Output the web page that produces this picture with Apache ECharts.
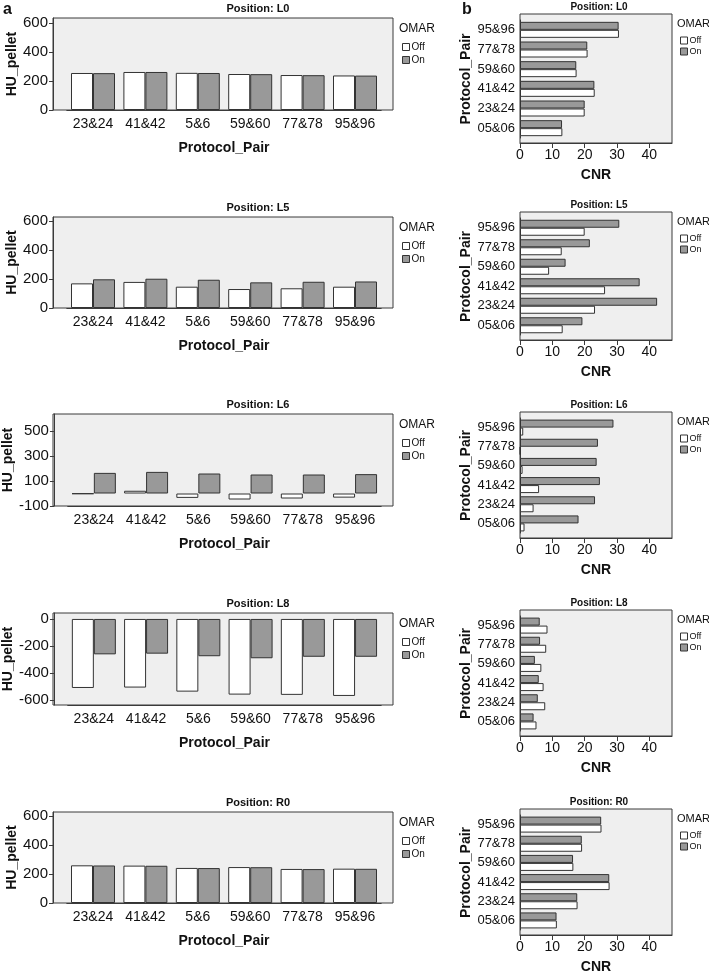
<!DOCTYPE html>
<html>
<head>
<meta charset="utf-8">
<script src="https://cdn.jsdelivr.net/npm/echarts@6/dist/echarts.min.js"></script>
<style>
html,body{margin:0;padding:0;background:#fff;}
#chart{width:709px;height:976px;}
</style>
</head>
<body>
<div id="chart"></div>
<script>
// ---------- data ----------
const positions = ['L0', 'L5', 'L6', 'L8', 'R0'];
const leftCats = ['23&24', '41&42', '5&6', '59&60', '77&78', '95&96'];
const rightCats = ['05&06', '23&24', '41&42', '59&60', '77&78', '95&96'];

// HU_pellet (panel a), order = leftCats
const huOffL0 = [255, 262, 256, 248, 241, 238];
const huOnL0  = [254, 262, 255, 247, 240, 237];
const huOffL5 = [170, 180, 147, 131, 136, 147];
const huOnL5  = [198, 202, 195, 177, 181, 183];
const huOffL6 = [-3, 22, -35, -48, -40, -33];
const huOnL6  = [165, 173, 160, 152, 152, 155];
const huOffL8 = [-511, -508, -538, -560, -562, -570];
const huOnL8  = [-262, -257, -276, -291, -280, -280];
const huOffR0 = [260, 258, 242, 248, 235, 237];
const huOnR0  = [259, 257, 241, 247, 234, 236];

// CNR (panel b), order = rightCats
const cnrOffL0 = [13.1, 20.0, 23.1, 17.5, 20.9, 30.6];
const cnrOnL0  = [13.0, 20.0, 23.0, 17.4, 20.8, 30.5];
const cnrOffL5 = [13.2, 23.2, 26.3, 9.0, 12.9, 20.0];
const cnrOnL5  = [19.3, 42.4, 37.0, 14.1, 21.6, 30.7];
const cnrOffL6 = [1.4, 4.2, 5.9, 0.8, 0.1, 1.0];
const cnrOnL6  = [18.1, 23.2, 24.7, 23.7, 24.1, 28.9];
const cnrOffL8 = [5.1, 7.8, 7.3, 6.6, 8.1, 8.5];
const cnrOnL8  = [4.2, 5.5, 5.8, 4.6, 6.2, 6.1];
const cnrOffR0 = [11.4, 17.8, 27.7, 16.5, 19.2, 25.2];
const cnrOnR0  = [11.3, 17.7, 27.6, 16.4, 19.1, 25.1];

// tick labels
const huTicksPos = [0, 200, 400, 600];
const huTicksL6  = [-100, 100, 300, 500];
const huTicksL8  = [-600, -400, -200, 0];
const cnrTicks   = [0, 10, 20, 30, 40];

const huOff = [huOffL0, huOffL5, huOffL6, huOffL8, huOffR0];
const huOn  = [huOnL0, huOnL5, huOnL6, huOnL8, huOnR0];
const cnrOff = [cnrOffL0, cnrOffL5, cnrOffL6, cnrOffL8, cnrOffR0];
const cnrOn  = [cnrOnL0, cnrOnL5, cnrOnL6, cnrOnL8, cnrOnR0];
const huTicks = [huTicksPos, huTicksPos, huTicksL6, huTicksL8, huTicksPos];

// ---------- layout / style ----------
const FONT = '"Liberation Sans", Arial, Helvetica, sans-serif';
const TXT = '#111';
const LINE = '#3a3a3a';
const BG = '#efefef';
const GREY = '#999999';

const leftLayout = [
  {top: 18,  bottom: 110, min: 0,    max: 634},
  {top: 217, bottom: 308, min: 0,    max: 628},
  {top: 414, bottom: 506, min: -100, max: 636},
  {top: 613, bottom: 705, min: -637, max: 44},
  {top: 812, bottom: 903, min: 0,    max: 628}
];
const rightLayout = [
  {top: 14,  bottom: 143},
  {top: 212, bottom: 340},
  {top: 412, bottom: 538},
  {top: 610, bottom: 736},
  {top: 809, bottom: 935}
];

const grid = [], xAxis = [], yAxis = [], series = [], legend = [], graphic = [];

function frame(left, top, width, height) {
  const gi = grid.length;
  grid.push({left, top, width, height, show: true, backgroundColor: BG,
    borderColor: LINE, borderWidth: 1, containLabel: false});
  xAxis.push({gridIndex: gi, type: 'value', show: false});
  yAxis.push({gridIndex: gi, type: 'value', show: false});
}

function txt(text, x, y, size, bold, align) {
  graphic.push({type: 'text', x, y, silent: true, style: {
    text, fill: TXT, font: (bold ? 'bold ' : '') + size + 'px ' + FONT,
    textAlign: align || 'center', textVerticalAlign: 'middle'}});
}

const barBorder = {borderColor: '#333', borderWidth: 1};

positions.forEach((p, i) => {
  // ----- left panel (a) -----
  const L = leftLayout[i];
  const h = L.bottom - L.top;
  frame(53, L.top, 340, h);
  let gi = grid.length;
  grid.push({left: 66.8, top: L.top, width: 314.4, height: h, show: false});
  xAxis.push({gridIndex: gi, type: 'category', data: leftCats,
    axisLine: {onZero: false, lineStyle: {color: LINE}},
    axisTick: {alignWithLabel: true, length: 5, lineStyle: {color: LINE}},
    axisLabel: {interval: 0, fontSize: 14, margin: 7, color: TXT, fontFamily: FONT},
    name: 'Protocol_Pair', nameLocation: 'middle', nameGap: 31,
    nameTextStyle: {fontSize: 14, fontWeight: 'bold', color: TXT, fontFamily: FONT}});
  yAxis.push({gridIndex: gi, type: 'value', min: L.min, max: L.max, offset: 13.8,
    axisLine: {show: true, lineStyle: {color: LINE}},
    axisTick: {show: true, length: 4, customValues: huTicks[i], lineStyle: {color: LINE}},
    axisLabel: {fontSize: 15, margin: 5, color: TXT, fontFamily: FONT, customValues: huTicks[i]},
    splitLine: {show: false},
    name: 'HU_pellet', nameLocation: 'middle', nameGap: 34,
    nameTextStyle: {fontSize: 14, fontWeight: 'bold', color: TXT, fontFamily: FONT}});
  series.push({type: 'bar', name: 'Off', xAxisIndex: gi, yAxisIndex: gi, data: huOff[i],
    barWidth: 22, barGap: '0%', itemStyle: Object.assign({color: '#ffffff'}, barBorder)});
  series.push({type: 'bar', name: 'On', xAxisIndex: gi, yAxisIndex: gi, data: huOn[i],
    barWidth: 22, barGap: '0%', itemStyle: Object.assign({color: GREY}, barBorder)});
  txt('Position: ' + p, 258, L.top - 9, 11, true);
  txt('OMAR', 399, L.top + 11, 12, false, 'left');
  legend.push({data: ['Off', 'On'], orient: 'vertical', left: 402, top: L.top + 24,
    padding: 0, itemWidth: 7, itemHeight: 7, itemGap: 3, icon: 'rect', selectedMode: false,
    itemStyle: {borderColor: '#333', borderWidth: 1},
    textStyle: {fontSize: 10, lineHeight: 10, color: TXT, fontFamily: FONT, padding: [0, 0, 0, -3]}});

  // ----- right panel (b) -----
  const R = rightLayout[i];
  const rh = R.bottom - R.top;
  frame(520, R.top, 152, rh);
  gi = grid.length;
  grid.push({left: 520, top: R.top + 6, width: 152, height: rh - 11, show: false});
  xAxis.push({gridIndex: gi, type: 'value', min: 0, max: 47, offset: 5,
    axisLine: {show: true, lineStyle: {color: LINE}},
    axisTick: {show: true, length: 5, customValues: cnrTicks, lineStyle: {color: LINE}},
    axisLabel: {fontSize: 14, margin: 5, color: TXT, fontFamily: FONT, customValues: cnrTicks},
    splitLine: {show: false},
    name: 'CNR', nameLocation: 'middle', nameGap: 25,
    nameTextStyle: {fontSize: 14, fontWeight: 'bold', color: TXT, fontFamily: FONT}});
  yAxis.push({gridIndex: gi, type: 'category', data: rightCats,
    axisLine: {show: true, lineStyle: {color: LINE}},
    axisTick: {alignWithLabel: true, length: 5, lineStyle: {color: LINE}},
    axisLabel: {interval: 0, fontSize: 13, margin: 5, color: TXT, fontFamily: FONT},
    name: 'Protocol_Pair', nameLocation: 'middle', nameGap: 44,
    nameTextStyle: {fontSize: 14, fontWeight: 'bold', color: TXT, fontFamily: FONT}});
  // On first so it is drawn above Off in the horizontal layout
  series.push({type: 'bar', name: 'On', xAxisIndex: gi, yAxisIndex: gi, data: cnrOn[i],
    barWidth: 8, barGap: '0%', itemStyle: Object.assign({color: GREY}, barBorder)});
  series.push({type: 'bar', name: 'Off', xAxisIndex: gi, yAxisIndex: gi, data: cnrOff[i],
    barWidth: 8, barGap: '0%', itemStyle: Object.assign({color: '#ffffff'}, barBorder)});
  txt('Position: ' + p, 599, R.top - 7, 10, true);
  txt('OMAR', 677, R.top + 10, 11, false, 'left');
  legend.push({data: ['Off', 'On'], orient: 'vertical', left: 680, top: R.top + 22,
    padding: 0, itemWidth: 7, itemHeight: 7, itemGap: 2, icon: 'rect', selectedMode: false,
    itemStyle: {borderColor: '#333', borderWidth: 1},
    textStyle: {fontSize: 9, lineHeight: 8, color: TXT, fontFamily: FONT, padding: [0, 0, 0, -3]}});
});

txt('a', 3, 10, 16, true, 'left');
txt('b', 462, 10, 16, true, 'left');

const chart = echarts.init(document.getElementById('chart'), null, {renderer: 'canvas'});
chart.setOption({
  animation: false,
  backgroundColor: '#ffffff',
  grid, xAxis, yAxis, series, legend, graphic
});
</script>
</body>
</html>
